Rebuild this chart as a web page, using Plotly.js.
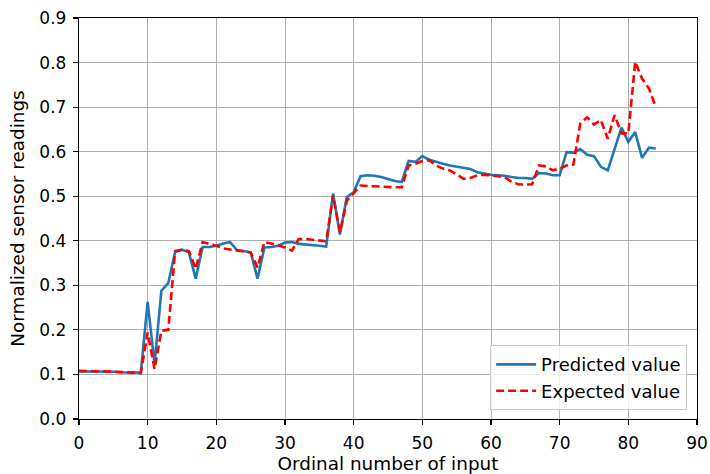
<!DOCTYPE html>
<html>
<head>
<meta charset="utf-8">
<script src="https://cdn.plot.ly/plotly-3.0.1.min.js"></script>
<style>html,body{margin:0;padding:0;background:#fff;}#chart{width:710px;height:474px;}</style>
</head>
<body>
<div id="chart"></div>
<script>
const ordinal = [0,1,2,3,4,5,6,7,8,9,10,11,12,13,14,15,16,17,18,19,20,21,22,23,24,25,26,27,28,29,30,31,32,33,34,35,36,37,38,39,40,41,42,43,44,45,46,47,48,49,50,51,52,53,54,55,56,57,58,59,60,61,62,63,64,65,66,67,68,69,70,71,72,73,74,75,76,77,78,79,80,81,82,83,84];
const predicted = [0.107,0.107,0.107,0.107,0.106,0.106,0.105,0.105,0.104,0.104,
  0.263,0.123,0.288,0.305,0.375,0.380,0.374,0.315,0.386,0.386,
  0.389,0.394,0.397,0.379,0.377,0.374,0.315,0.385,0.386,0.389,
  0.396,0.397,0.393,0.392,0.391,0.389,0.387,0.506,0.414,0.498,
  0.509,0.545,0.547,0.546,0.543,0.539,0.534,0.532,0.579,0.577,
  0.590,0.582,0.577,0.573,0.569,0.566,0.563,0.561,0.554,0.551,
  0.548,0.547,0.546,0.543,0.541,0.541,0.539,0.552,0.551,0.547,
  0.547,0.599,0.598,0.606,0.593,0.590,0.566,0.558,0.606,0.654,
  0.622,0.644,0.586,0.609,0.607];
const expected = [0.108,0.108,0.107,0.107,0.107,0.106,0.106,0.105,0.104,0.103,
  0.194,0.112,0.198,0.200,0.377,0.380,0.377,0.337,0.397,0.393,
  0.389,0.383,0.380,0.378,0.376,0.374,0.340,0.397,0.394,0.389,
  0.385,0.378,0.404,0.404,0.402,0.400,0.399,0.502,0.419,0.490,
  0.506,0.524,0.523,0.522,0.521,0.521,0.520,0.520,0.569,0.573,
  0.579,0.581,0.569,0.562,0.558,0.549,0.539,0.541,0.547,0.548,
  0.547,0.545,0.543,0.532,0.527,0.526,0.527,0.569,0.567,0.558,
  0.562,0.569,0.571,0.663,0.677,0.661,0.671,0.629,0.682,0.641,
  0.641,0.802,0.764,0.742,0.700];
const xTicks = [0,10,20,30,40,50,60,70,80,90];
const yTicks = [0.0,0.1,0.2,0.3,0.4,0.5,0.6,0.7,0.8,0.9];

const fam = 'DejaVu Sans, sans-serif';
const tickFont = {family: fam, size: 17, color: '#000'};
const titleFont = {family: fam, size: 18.4, color: '#000'};
const legendFont = {family: fam, size: 18, color: '#000'};

const traces = [
  {x: ordinal, y: predicted, mode: 'lines', name: 'Predicted value', legendgroup: 'a',
   line: {color: '#1f77b4', width: 2.6}},
  {x: ordinal, y: expected, mode: 'lines', name: 'Expected value', legendgroup: 'b',
   line: {color: '#ff0000', width: 2.6, dash: '8px,4px'}}
];

const axisCommon = {
  showgrid: true, gridcolor: '#b0b0b0', gridwidth: 1,
  showline: true, linecolor: '#000', linewidth: 1.2, mirror: true,
  ticks: 'outside', ticklen: 5, tickwidth: 1.2, tickcolor: '#000',
  zeroline: false, tickfont: tickFont, ticklabelstandoff: 3
};

const layout = {
  width: 710, height: 474,
  margin: {l: 79, r: 13, t: 18, b: 55},
  paper_bgcolor: '#fff', plot_bgcolor: '#fff',
  font: tickFont,
  showlegend: true,
  legend: {x: 0.984, y: 0.022, xanchor: 'right', yanchor: 'bottom',
    bgcolor: 'rgba(255,255,255,0.8)', bordercolor: '#cccccc', borderwidth: 1,
    font: legendFont, tracegroupgap: 0, itemwidth: 40},
  xaxis: Object.assign({}, axisCommon, {
    range: [0, 90], tickmode: 'array', tickvals: xTicks, ticktext: xTicks.map(String),
    title: {text: 'Ordinal number of input', font: titleFont, standoff: 4}
  }),
  yaxis: Object.assign({}, axisCommon, {
    range: [0, 0.9], tickmode: 'array', tickvals: yTicks, ticktext: yTicks.map(v => v.toFixed(1)),
    title: {text: 'Normalized sensor readings', font: titleFont, standoff: 10}
  })
};

Plotly.newPlot('chart', traces, layout, {staticPlot: true, displayModeBar: false});
</script>
</body>
</html>
